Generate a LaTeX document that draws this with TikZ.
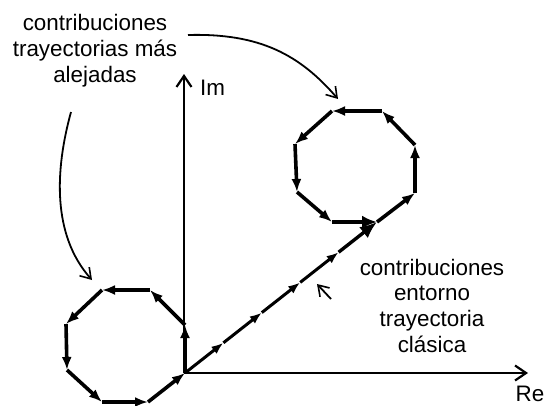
\documentclass[tikz,border=0pt]{standalone}
\usepackage{fontspec}
\setmainfont{Liberation Sans}
\usetikzlibrary{arrows.meta}
\begin{document}
\begin{tikzpicture}[x=1pt,y=-1pt,
  axis/.style={line width=2.4pt,-{Straight Barb[length=11pt,width=15pt,line width=2.2pt]}},
  edge/.style={line width=3.6pt,-{Latex[length=13pt,width=10pt]}},
  bigedge/.style={line width=3.6pt,-{Latex[length=15pt,width=13pt]}},
  diag/.style={line width=3pt,-{Latex[length=12pt,width=9pt]}},
  bigdiag/.style={line width=3.4pt,-{Latex[length=17pt,width=14pt]}},
  pointer/.style={line width=1.8pt,-{Straight Barb[length=10pt,width=13pt,line width=1.6pt]}},
  lbl/.style={font=\fontsize{22.4}{25.6}\selectfont,inner sep=0pt,align=center}]
\useasboundingbox (0,0) rectangle (547,405);
% axes
\coordinate (O) at (184,373);
\coordinate (ImTip) at (184,74);
\coordinate (ReTip) at (528,373);
\draw[axis] (O) -- (ImTip);
\draw[axis] (O) -- (ReTip);
\node[lbl,anchor=base west] (im) at (200,95) {Im};
\node[lbl,anchor=base] (re) at (530,401) {Re};
% lower polygon
\coordinate (L0) at (185,373);
\coordinate (L1) at (185,325);
\coordinate (L2) at (150,290);
\coordinate (L3) at (102,290);
\coordinate (L4) at (66,324);
\coordinate (L5) at (67,370);
\coordinate (L6) at (102,402);
\coordinate (L7) at (148,402);
\draw[edge] (L0) -- (L1);
\draw[edge] (L1) -- (L2);
\draw[edge] (L2) -- (L3);
\draw[edge] (L3) -- (L4);
\draw[edge] (L4) -- (L5);
\draw[edge] (L5) -- (L6);
\draw[edge] (L6) -- (L7);
\draw[edge] (L7) -- (L0);
% upper polygon
\coordinate (U0) at (377,222);
\coordinate (U1) at (415,193);
\coordinate (U2) at (415,145);
\coordinate (U3) at (382,111);
\coordinate (U4) at (332,111);
\coordinate (U5) at (295,144);
\coordinate (U6) at (297,192);
\coordinate (U7) at (332,222);
\draw[edge] (U0) -- (U1);
\draw[edge] (U1) -- (U2);
\draw[edge] (U2) -- (U3);
\draw[edge] (U3) -- (U4);
\draw[edge] (U4) -- (U5);
\draw[edge] (U5) -- (U6);
\draw[edge] (U6) -- (U7);
\draw[bigedge] (U7) -- (U0);
% diagonal
\path (L0) -- (U0) coordinate[pos=0.2] (D1) coordinate[pos=0.4] (D2)
  coordinate[pos=0.6] (D3) coordinate[pos=0.8] (D4);
\draw[diag] (L0) -- (D1);
\draw[diag] (D1) -- (D2);
\draw[diag] (D2) -- (D3);
\draw[diag] (D3) -- (D4);
\draw[bigdiag] (D4) -- (U0);
% labels
\node[lbl,anchor=base] (far) at (95,82) {contribuciones\\trayectorias más\\alejadas};
\node[lbl,anchor=base] (near) at (432,352) {contribuciones\\entorno\\trayectoria\\clásica};
% pointers
\coordinate (f1) at (188,35);
\coordinate (f1t) at (338,99);
\coordinate (f2) at (71,112);
\coordinate (f2t) at (92,280);
\coordinate (n1) at (331,299);
\coordinate (n1t) at (317,284);
\draw[pointer] (f1) .. controls (260,33) and (300,55) .. (f1t);
\draw[pointer] (f2) .. controls (55,170) and (52,235) .. (f2t);
\draw[pointer] (n1) -- (n1t);
\end{tikzpicture}
\end{document}
